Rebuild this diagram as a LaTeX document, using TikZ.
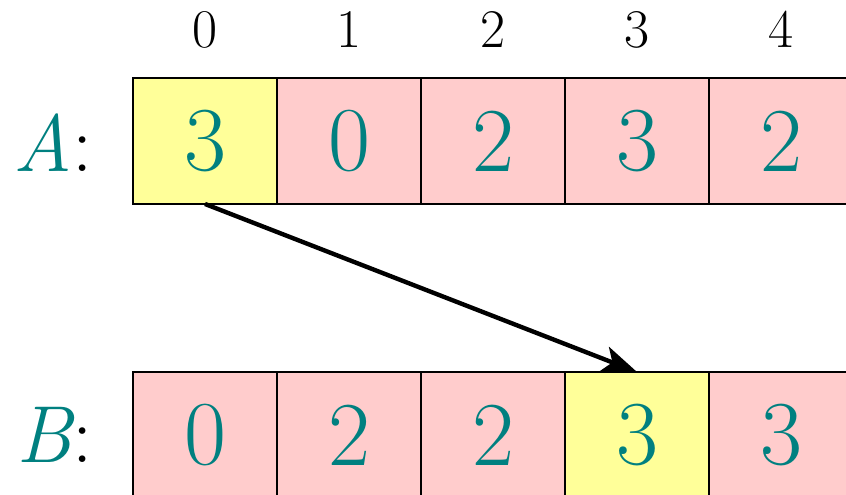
\documentclass[tikz,border=0pt]{standalone}
\usepackage{fontspec}
\usetikzlibrary{arrows.meta}
\definecolor{cellpink}{HTML}{FFCCCC}
\definecolor{cellyellow}{HTML}{FFFF99}
\definecolor{numteal}{HTML}{008080}
\begin{document}
\begin{tikzpicture}[>={Stealth[length=10pt,width=7.5pt,inset=2.5pt]},
  cell/.style={draw=black, line width=0.6pt, fill=cellpink, minimum width=1.44cm,
    minimum height=1.26cm, inner sep=0pt, outer sep=0pt, text=numteal,
    font=\fontsize{26}{31}\selectfont},
  hot/.style={cell, fill=cellyellow},
  idx/.style={anchor=base, inner sep=0pt, font=\fontsize{15.5}{18}\selectfont},
  arr/.style={anchor=base east, inner sep=0pt, font=\fontsize{23}{28}\selectfont}]

  % --- 0. 図の範囲 ---
  \useasboundingbox (0,0) rectangle (8.46,4.95);

  % --- 1. 添字 ---
  \node[idx] (i0) at (2.05,4.47) {0};
  \node[idx] (i1) at (3.49,4.47) {1};
  \node[idx] (i2) at (4.93,4.47) {2};
  \node[idx] (i3) at (6.37,4.47) {3};
  \node[idx] (i4) at (7.81,4.47) {4};

  % --- 2. 配列 A ---
  \node[arr] (labA) at (0.93,3.23) {\textcolor{numteal}{\itshape A}:};
  \node[hot]  (a0) at (2.05,3.54) {3};
  \node[cell] (a1) at (3.49,3.54) {0};
  \node[cell] (a2) at (4.93,3.54) {2};
  \node[cell] (a3) at (6.37,3.54) {3};
  \node[cell] (a4) at (7.81,3.54) {2};

  % --- 3. 配列 B ---
  \node[arr] (labB) at (0.93,0.32) {\textcolor{numteal}{\itshape B}:};
  \node[cell] (b0) at (2.05,0.60) {0};
  \node[cell] (b1) at (3.49,0.60) {2};
  \node[cell] (b2) at (4.93,0.60) {2};
  \node[hot]  (b3) at (6.37,0.60) {3};
  \node[cell] (b4) at (7.81,0.60) {3};

  % --- 4. 移動の矢印 ---
  \draw[->, line width=1.25pt] (a0.south) -- (b3.north);

\end{tikzpicture}
\end{document}
